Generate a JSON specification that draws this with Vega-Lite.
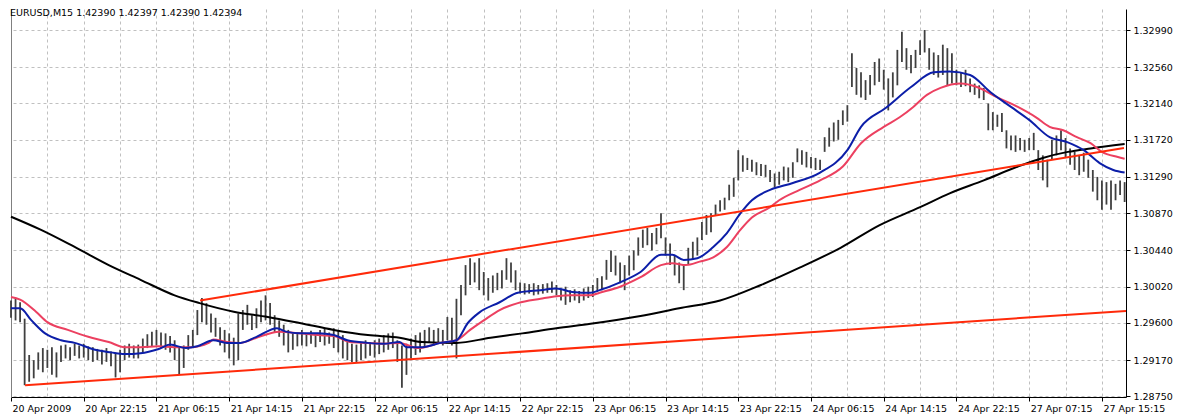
{
"$schema":"https://vega.github.io/schema/vega-lite/v6.json",
"width":1115,"height":388,"autosize":{"type":"none"},
"padding":{"left":11,"top":9,"right":55,"bottom":20},
"background":"white",
"config":{"view":{"stroke":null},"axis":{"labelFont":"DejaVu Sans","labelFontSize":9.5,"labelColor":"#000000"}},
"title":{"text":"EURUSD,M15  1.42390 1.42397 1.42390 1.42394","anchor":"start","orient":"top","offset":-8,"dx":3,"baseline":"top","font":"DejaVu Sans","fontSize":9.5,"fontWeight":"normal","color":"#000000"},
"datasets":{
"bars":[
{"i":0,"h":1.2986,"l":1.2966},{"i":2,"h":1.2988,"l":1.2963},{"i":4,"h":1.2984,"l":1.2961},{"i":6,"h":1.2965,"l":1.2888},{"i":8,"h":1.2923,"l":1.2892},{"i":10,"h":1.2917,"l":1.2896},{"i":12,"h":1.2926,"l":1.2906},{"i":14,"h":1.2931,"l":1.2903},{"i":16,"h":1.2929,"l":1.2908},{"i":18,"h":1.2932,"l":1.29},
{"i":20,"h":1.2926,"l":1.2897},{"i":22,"h":1.2934,"l":1.2915},{"i":24,"h":1.2935,"l":1.2919},{"i":26,"h":1.2932,"l":1.2917},{"i":28,"h":1.2936,"l":1.2922},{"i":30,"h":1.2934,"l":1.2919},{"i":32,"h":1.2936,"l":1.292},{"i":34,"h":1.2933,"l":1.2917},{"i":36,"h":1.2932,"l":1.2915},{"i":38,"h":1.293,"l":1.2917},
{"i":40,"h":1.2929,"l":1.2912},{"i":42,"h":1.2931,"l":1.2915},{"i":44,"h":1.2927,"l":1.291},{"i":46,"h":1.2925,"l":1.2897},{"i":48,"h":1.2929,"l":1.2903},{"i":50,"h":1.2934,"l":1.2917},{"i":52,"h":1.2936,"l":1.292},{"i":54,"h":1.2934,"l":1.2919},{"i":56,"h":1.2935,"l":1.2919},{"i":58,"h":1.2942,"l":1.2926},
{"i":60,"h":1.2947,"l":1.2931},{"i":62,"h":1.295,"l":1.2933},{"i":64,"h":1.2952,"l":1.2934},{"i":66,"h":1.2949,"l":1.2931},{"i":68,"h":1.2948,"l":1.2929},{"i":70,"h":1.2945,"l":1.2926},{"i":72,"h":1.294,"l":1.2917},{"i":74,"h":1.2932,"l":1.29},{"i":76,"h":1.2934,"l":1.2908},{"i":78,"h":1.2946,"l":1.2929},
{"i":80,"h":1.2952,"l":1.2932},{"i":82,"h":1.2975,"l":1.2946},{"i":84,"h":1.2989,"l":1.2961},{"i":86,"h":1.2983,"l":1.2958},{"i":88,"h":1.2971,"l":1.2949},{"i":90,"h":1.2966,"l":1.2944},{"i":92,"h":1.2955,"l":1.2934},{"i":94,"h":1.2952,"l":1.2926},{"i":96,"h":1.2948,"l":1.2919},{"i":98,"h":1.2943,"l":1.2911},
{"i":100,"h":1.2971,"l":1.2917},{"i":102,"h":1.2975,"l":1.2952},{"i":104,"h":1.2981,"l":1.2958},{"i":106,"h":1.2969,"l":1.2952},{"i":108,"h":1.2977,"l":1.2954},{"i":110,"h":1.2986,"l":1.2961},{"i":112,"h":1.2992,"l":1.2963},{"i":114,"h":1.2983,"l":1.2958},{"i":116,"h":1.2969,"l":1.2949},{"i":118,"h":1.2963,"l":1.2944},
{"i":120,"h":1.2958,"l":1.2934},{"i":122,"h":1.2952,"l":1.2926},{"i":124,"h":1.2948,"l":1.2929},{"i":126,"h":1.2949,"l":1.2933},{"i":128,"h":1.2952,"l":1.2934},{"i":130,"h":1.2948,"l":1.2933},{"i":132,"h":1.2951,"l":1.2936},{"i":134,"h":1.2947,"l":1.2932},{"i":136,"h":1.2952,"l":1.2938},{"i":138,"h":1.2954,"l":1.2934},
{"i":140,"h":1.2949,"l":1.2936},{"i":142,"h":1.2954,"l":1.2931},{"i":144,"h":1.2952,"l":1.2926},{"i":146,"h":1.2946,"l":1.2919},{"i":148,"h":1.294,"l":1.2917},{"i":150,"h":1.2936,"l":1.2915},{"i":152,"h":1.2935,"l":1.2914},{"i":154,"h":1.2938,"l":1.2917},{"i":156,"h":1.294,"l":1.2919},{"i":158,"h":1.2938,"l":1.2922},
{"i":160,"h":1.294,"l":1.292},{"i":162,"h":1.2942,"l":1.2924},{"i":164,"h":1.2946,"l":1.2926},{"i":166,"h":1.2948,"l":1.2929},{"i":168,"h":1.2949,"l":1.2931},{"i":170,"h":1.294,"l":1.2915},{"i":172,"h":1.2934,"l":1.2885},{"i":174,"h":1.2936,"l":1.29},{"i":176,"h":1.2942,"l":1.2919},{"i":178,"h":1.2946,"l":1.2923},
{"i":180,"h":1.2949,"l":1.2926},{"i":182,"h":1.2952,"l":1.2933},{"i":184,"h":1.2955,"l":1.2937},{"i":186,"h":1.2952,"l":1.2934},{"i":188,"h":1.2954,"l":1.2938},{"i":190,"h":1.2952,"l":1.2934},{"i":192,"h":1.2967,"l":1.294},{"i":194,"h":1.2966,"l":1.2934},{"i":196,"h":1.2988,"l":1.2919},{"i":198,"h":1.3004,"l":1.2969},
{"i":200,"h":1.3027,"l":1.2992},{"i":202,"h":1.3035,"l":1.3004},{"i":204,"h":1.303,"l":1.3007},{"i":206,"h":1.3035,"l":1.2998},{"i":208,"h":1.3019,"l":1.2992},{"i":210,"h":1.3012,"l":1.2986},{"i":212,"h":1.3015,"l":1.2995},{"i":214,"h":1.3018,"l":1.2998},{"i":216,"h":1.3021,"l":1.3},{"i":218,"h":1.3035,"l":1.301},
{"i":220,"h":1.303,"l":1.3007},{"i":222,"h":1.3021,"l":1.2998},{"i":224,"h":1.3007,"l":1.2994},{"i":226,"h":1.3006,"l":1.2993},{"i":228,"h":1.3005,"l":1.2994},{"i":230,"h":1.3006,"l":1.2992},{"i":232,"h":1.3004,"l":1.2993},{"i":234,"h":1.3005,"l":1.2994},{"i":236,"h":1.3006,"l":1.2995},{"i":238,"h":1.3008,"l":1.2995},
{"i":240,"h":1.3004,"l":1.2992},{"i":242,"h":1.3,"l":1.2986},{"i":244,"h":1.3002,"l":1.2981},{"i":246,"h":1.2998,"l":1.2984},{"i":248,"h":1.2999,"l":1.2986},{"i":250,"h":1.2997,"l":1.2983},{"i":252,"h":1.3,"l":1.2986},{"i":254,"h":1.3002,"l":1.2989},{"i":256,"h":1.3004,"l":1.299},{"i":258,"h":1.3012,"l":1.2996},
{"i":260,"h":1.3014,"l":1.2998},{"i":262,"h":1.3033,"l":1.301},{"i":264,"h":1.3044,"l":1.3019},{"i":266,"h":1.3038,"l":1.3015},{"i":268,"h":1.303,"l":1.3006},{"i":270,"h":1.3027,"l":1.2998},{"i":272,"h":1.3038,"l":1.3015},{"i":274,"h":1.3044,"l":1.3021},{"i":276,"h":1.3059,"l":1.3038},{"i":278,"h":1.3068,"l":1.3047},
{"i":280,"h":1.307,"l":1.305},{"i":282,"h":1.3064,"l":1.3044},{"i":284,"h":1.307,"l":1.3051},{"i":286,"h":1.3087,"l":1.3058},{"i":288,"h":1.3059,"l":1.3038},{"i":290,"h":1.3052,"l":1.3027},{"i":292,"h":1.3038,"l":1.3015},{"i":294,"h":1.303,"l":1.3006},{"i":296,"h":1.3027,"l":1.2998},{"i":298,"h":1.3047,"l":1.3027},
{"i":300,"h":1.3054,"l":1.3033},{"i":302,"h":1.3059,"l":1.3038},{"i":304,"h":1.3077,"l":1.3056},{"i":306,"h":1.3085,"l":1.3062},{"i":308,"h":1.3087,"l":1.3065},{"i":310,"h":1.3097,"l":1.3085},{"i":312,"h":1.3102,"l":1.3089},{"i":314,"h":1.3105,"l":1.3091},{"i":316,"h":1.312,"l":1.3102},{"i":318,"h":1.3128,"l":1.3106},
{"i":320,"h":1.316,"l":1.3125},{"i":322,"h":1.3154,"l":1.3135},{"i":324,"h":1.3151,"l":1.3137},{"i":326,"h":1.3149,"l":1.3135},{"i":328,"h":1.3146,"l":1.3131},{"i":330,"h":1.3144,"l":1.313},{"i":332,"h":1.3143,"l":1.3129},{"i":334,"h":1.3137,"l":1.3123},{"i":336,"h":1.3133,"l":1.3117},{"i":338,"h":1.3135,"l":1.312},
{"i":340,"h":1.3141,"l":1.3125},{"i":342,"h":1.314,"l":1.3123},{"i":344,"h":1.3146,"l":1.3128},{"i":346,"h":1.3162,"l":1.3146},{"i":348,"h":1.316,"l":1.3143},{"i":350,"h":1.3158,"l":1.314},{"i":352,"h":1.3152,"l":1.3139},{"i":354,"h":1.3151,"l":1.3137},{"i":356,"h":1.3149,"l":1.3137},{"i":358,"h":1.3175,"l":1.3158},
{"i":360,"h":1.3186,"l":1.3164},{"i":362,"h":1.3192,"l":1.317},{"i":364,"h":1.3195,"l":1.3172},{"i":366,"h":1.3206,"l":1.3189},{"i":368,"h":1.3212,"l":1.3193},{"i":370,"h":1.3272,"l":1.3233},{"i":372,"h":1.3255,"l":1.3224},{"i":374,"h":1.325,"l":1.3221},{"i":376,"h":1.3241,"l":1.3218},{"i":378,"h":1.3247,"l":1.3224},
{"i":380,"h":1.3262,"l":1.3235},{"i":382,"h":1.3266,"l":1.3239},{"i":384,"h":1.3253,"l":1.323},{"i":386,"h":1.3243,"l":1.3206},{"i":388,"h":1.325,"l":1.3221},{"i":390,"h":1.3276,"l":1.3235},{"i":392,"h":1.3297,"l":1.3262},{"i":394,"h":1.3278,"l":1.3253},{"i":396,"h":1.327,"l":1.3249},{"i":398,"h":1.3276,"l":1.3255},
{"i":400,"h":1.3287,"l":1.327},{"i":402,"h":1.3299,"l":1.3273},{"i":404,"h":1.3278,"l":1.3253},{"i":406,"h":1.3273,"l":1.3247},{"i":408,"h":1.327,"l":1.3244},{"i":410,"h":1.3282,"l":1.3247},{"i":412,"h":1.3278,"l":1.3235},{"i":414,"h":1.3272,"l":1.3237},{"i":416,"h":1.3253,"l":1.3235},{"i":418,"h":1.325,"l":1.3233},
{"i":420,"h":1.3253,"l":1.3234},{"i":422,"h":1.3243,"l":1.3227},{"i":424,"h":1.3237,"l":1.3224},{"i":426,"h":1.3235,"l":1.322},{"i":428,"h":1.3232,"l":1.3218},{"i":430,"h":1.3214,"l":1.3183},{"i":432,"h":1.3204,"l":1.3183},{"i":434,"h":1.3201,"l":1.3187},{"i":436,"h":1.3203,"l":1.3181},{"i":438,"h":1.3183,"l":1.3162},
{"i":440,"h":1.3177,"l":1.316},{"i":442,"h":1.3177,"l":1.3158},{"i":444,"h":1.3174,"l":1.316},{"i":446,"h":1.3172,"l":1.3158},{"i":448,"h":1.3174,"l":1.316},{"i":450,"h":1.318,"l":1.316},{"i":452,"h":1.316,"l":1.3137},{"i":454,"h":1.3154,"l":1.3125},{"i":456,"h":1.3149,"l":1.3117},{"i":458,"h":1.3172,"l":1.3149},
{"i":460,"h":1.3177,"l":1.3154},{"i":462,"h":1.3183,"l":1.316},{"i":464,"h":1.3174,"l":1.3151},{"i":466,"h":1.3162,"l":1.3143},{"i":468,"h":1.3158,"l":1.3137},{"i":470,"h":1.3154,"l":1.3131},{"i":472,"h":1.3157,"l":1.3135},{"i":474,"h":1.3149,"l":1.3128},{"i":476,"h":1.3137,"l":1.3112},{"i":478,"h":1.3129,"l":1.3102},
{"i":480,"h":1.3125,"l":1.3091},{"i":482,"h":1.3123,"l":1.3097},{"i":484,"h":1.3125,"l":1.3091},{"i":486,"h":1.3121,"l":1.3102},{"i":488,"h":1.3125,"l":1.3108},{"i":490,"h":1.3123,"l":1.31}
],
"black":[
{"i":0,"p":1.3083},{"i":13,"p":1.3068},{"i":28,"p":1.3048},{"i":43,"p":1.3027},{"i":57,"p":1.301},{"i":72,"p":1.2992},{"i":83,"p":1.2983},{"i":98,"p":1.2973},{"i":113,"p":1.2967},{"i":127,"p":1.296},{"i":142,"p":1.2952},{"i":157,"p":1.2946},{"i":171,"p":1.2943},{"i":181,"p":1.2938},{"i":196,"p":1.2937},{"i":211,"p":1.2943},{"i":225,"p":1.2948},{"i":240,"p":1.2954},{"i":255,"p":1.2959},{"i":277,"p":1.2968},{"i":294,"p":1.2977},{"i":312,"p":1.2986},{"i":330,"p":1.3004},{"i":347,"p":1.3024},{"i":365,"p":1.3047},{"i":382,"p":1.3073},{"i":400,"p":1.3094},{"i":413,"p":1.311},{"i":428,"p":1.3125},{"i":443,"p":1.3141},{"i":454,"p":1.3151},{"i":465,"p":1.3158},{"i":475,"p":1.3162},{"i":490,"p":1.3167}
],
"pink":[
{"i":0,"p":1.299},{"i":4,"p":1.2987},{"i":11,"p":1.2973},{"i":16,"p":1.2961},{"i":25,"p":1.2952},{"i":34,"p":1.2944},{"i":43,"p":1.2938},{"i":50,"p":1.2932},{"i":57,"p":1.2932},{"i":65,"p":1.2933},{"i":72,"p":1.2932},{"i":79,"p":1.2932},{"i":87,"p":1.2937},{"i":89,"p":1.2941},{"i":95,"p":1.2938},{"i":101,"p":1.2937},{"i":108,"p":1.2943},{"i":118,"p":1.295},{"i":127,"p":1.2948},{"i":135,"p":1.2946},{"i":142,"p":1.2945},{"i":149,"p":1.2938},{"i":157,"p":1.2937},{"i":164,"p":1.2936},{"i":171,"p":1.2937},{"i":179,"p":1.2931},{"i":189,"p":1.2937},{"i":196,"p":1.294},{"i":202,"p":1.2952},{"i":208,"p":1.2963},{"i":215,"p":1.2975},{"i":223,"p":1.2983},{"i":233,"p":1.2988},{"i":240,"p":1.2991},{"i":247,"p":1.2992},{"i":255,"p":1.2992},{"i":259,"p":1.2995},{"i":268,"p":1.3002},{"i":277,"p":1.3013},{"i":286,"p":1.3027},{"i":291,"p":1.3029},{"i":297,"p":1.3027},{"i":303,"p":1.3031},{"i":309,"p":1.3036},{"i":315,"p":1.3048},{"i":321,"p":1.3068},{"i":326,"p":1.3082},{"i":334,"p":1.3094},{"i":338,"p":1.3102},{"i":347,"p":1.3114},{"i":356,"p":1.3125},{"i":366,"p":1.3141},{"i":374,"p":1.3168},{"i":384,"p":1.3187},{"i":391,"p":1.3198},{"i":397,"p":1.321},{"i":403,"p":1.3224},{"i":409,"p":1.3232},{"i":418,"p":1.3237},{"i":425,"p":1.3233},{"i":434,"p":1.3221},{"i":443,"p":1.321},{"i":451,"p":1.3198},{"i":457,"p":1.3187},{"i":463,"p":1.3183},{"i":469,"p":1.3175},{"i":475,"p":1.3168},{"i":480,"p":1.3158},{"i":487,"p":1.3152},{"i":490,"p":1.315}
],
"blue":[
{"i":0,"p":1.2977},{"i":4,"p":1.2977},{"i":9,"p":1.2963},{"i":15,"p":1.2948},{"i":22,"p":1.294},{"i":28,"p":1.2937},{"i":37,"p":1.2929},{"i":44,"p":1.2926},{"i":50,"p":1.2924},{"i":57,"p":1.2925},{"i":65,"p":1.293},{"i":70,"p":1.2935},{"i":77,"p":1.2931},{"i":82,"p":1.2933},{"i":89,"p":1.294},{"i":95,"p":1.2937},{"i":101,"p":1.2937},{"i":108,"p":1.2944},{"i":117,"p":1.2954},{"i":121,"p":1.295},{"i":127,"p":1.2948},{"i":135,"p":1.2948},{"i":142,"p":1.2946},{"i":148,"p":1.294},{"i":157,"p":1.2937},{"i":164,"p":1.2936},{"i":171,"p":1.2938},{"i":174,"p":1.2932},{"i":181,"p":1.2932},{"i":189,"p":1.2937},{"i":196,"p":1.294},{"i":201,"p":1.296},{"i":206,"p":1.2972},{"i":215,"p":1.2984},{"i":223,"p":1.2995},{"i":233,"p":1.2998},{"i":240,"p":1.3},{"i":247,"p":1.2996},{"i":255,"p":1.2995},{"i":259,"p":1.2998},{"i":268,"p":1.3007},{"i":277,"p":1.3019},{"i":286,"p":1.3039},{"i":291,"p":1.3039},{"i":296,"p":1.3033},{"i":302,"p":1.3035},{"i":309,"p":1.3048},{"i":315,"p":1.3064},{"i":321,"p":1.3087},{"i":326,"p":1.3102},{"i":334,"p":1.3114},{"i":344,"p":1.3122},{"i":356,"p":1.3134},{"i":368,"p":1.316},{"i":374,"p":1.3187},{"i":385,"p":1.3209},{"i":396,"p":1.3233},{"i":406,"p":1.325},{"i":413,"p":1.3251},{"i":422,"p":1.3247},{"i":431,"p":1.3227},{"i":440,"p":1.321},{"i":448,"p":1.3195},{"i":457,"p":1.3175},{"i":465,"p":1.3169},{"i":472,"p":1.316},{"i":479,"p":1.3145},{"i":485,"p":1.3137},{"i":490,"p":1.3134}
],
"trend":[
{"n":"support","i":6.2,"p":1.2888},{"n":"support","i":490.6,"p":1.2974},
{"n":"upper","i":83.2,"p":1.2986},{"n":"upper","i":489.7,"p":1.31625}
]
},
"layer":[
{"data":{"name":"bars"},"mark":{"type":"rule","color":"#404040","strokeWidth":1.8},
 "encoding":{
  "x":{"field":"i","type":"quantitative","scale":{"domain":[0,490.6],"nice":false,"zero":false},
       "axis":{"orient":"bottom","values":[0,16,32,48,64,80,96,112,128,144,160,176,192,208,224,240,256,272,288,304,320,336,352,368,384,400,416,432,448,464,480],"grid":true,"gridColor":"#c0c0c0","gridDash":[3,3],"gridWidth":1,"labels":false,"ticks":false,"domain":false,"title":null}},
  "y":{"field":"l","type":"quantitative","scale":{"domain":[1.287438,1.33233],"nice":false,"zero":false},
       "axis":{"orient":"right","values":[1.2875,1.2917,1.296,1.3002,1.3044,1.3087,1.3129,1.3172,1.3214,1.3256,1.3299],"format":".5f","grid":true,"gridColor":"#c0c0c0","gridDash":[3,3],"gridWidth":1,"domainColor":"#000000","tickColor":"#000000","tickSize":4,"labelPadding":3,"labelAlign":"left","labelBaseline":"middle","labelFlush":false,"title":null}},
  "y2":{"field":"h"}}},
{"data":{"name":"black"},"mark":{"type":"line","color":"#000000","strokeWidth":2,"interpolate":"monotone"},
 "encoding":{
  "x":{"field":"i","type":"quantitative",
       "axis":{"orient":"bottom","values":[0,32,64,96,128,160,192,224,256,288,320,352,384,416,448,480],"labelExpr":"['20 Apr 2009','20 Apr 22:15','21 Apr 06:15','21 Apr 14:15','21 Apr 22:15','22 Apr 06:15','22 Apr 14:15','22 Apr 22:15','23 Apr 06:15','23 Apr 14:15','23 Apr 22:15','24 Apr 06:15','24 Apr 14:15','24 Apr 22:15','27 Apr 07:15','27 Apr 15:15'][round(datum.value/32)]","grid":false,"domainColor":"#000000","tickColor":"#000000","tickSize":4,"labelAlign":"left","labelBaseline":"top","labelPadding":2,"labelOffset":1,"labelFlush":false,"labelOverlap":false,"title":null}},
  "y":{"field":"p","type":"quantitative",
       "axis":{"orient":"left","labels":false,"ticks":false,"grid":false,"domainColor":"#808080","title":null}}}},
{"data":{"name":"pink"},"mark":{"type":"line","color":"#ec4060","strokeWidth":2,"interpolate":"monotone"},
 "encoding":{"x":{"field":"i","type":"quantitative","axis":null},"y":{"field":"p","type":"quantitative","axis":null}}},
{"data":{"name":"blue"},"mark":{"type":"line","color":"#0c1ea8","strokeWidth":2,"interpolate":"monotone"},
 "encoding":{"x":{"field":"i","type":"quantitative","axis":null},"y":{"field":"p","type":"quantitative","axis":null}}},
{"data":{"name":"trend"},"mark":{"type":"line","color":"#ff2a0a","strokeWidth":2},
 "encoding":{"x":{"field":"i","type":"quantitative","axis":null},"y":{"field":"p","type":"quantitative","axis":null},"detail":{"field":"n","type":"nominal"}}}
],
"resolve":{"axis":{"x":"independent","y":"independent"}}
}
